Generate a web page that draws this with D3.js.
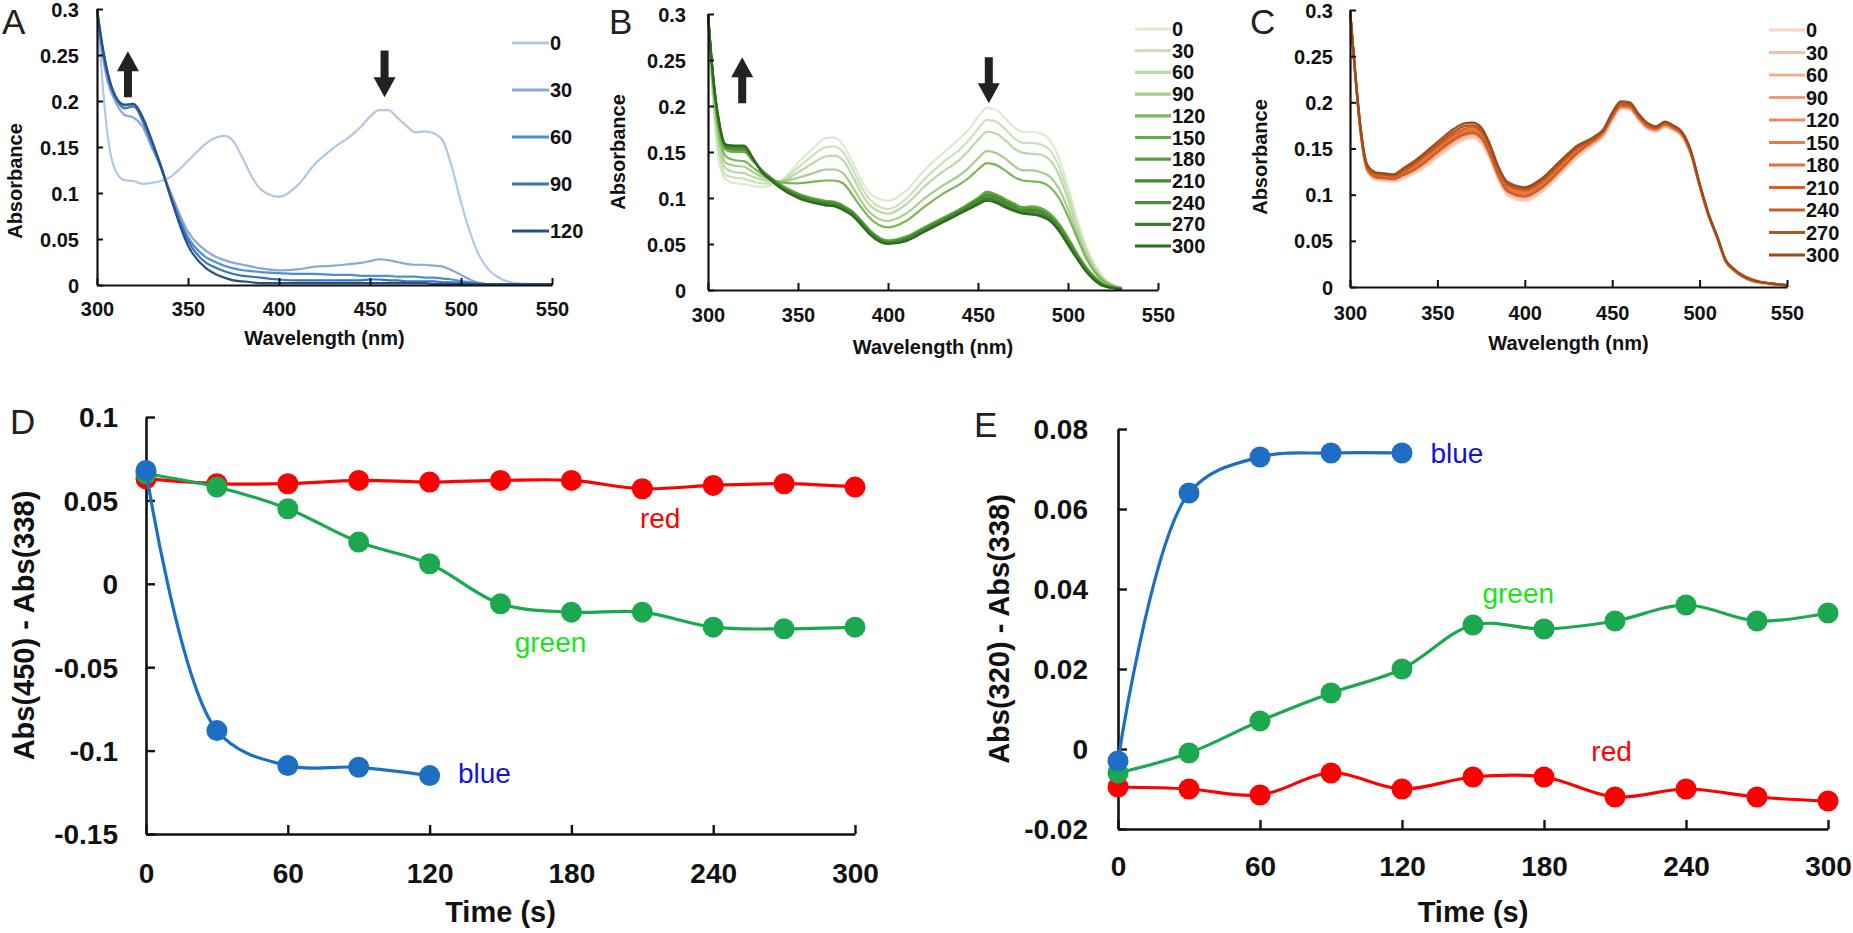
<!DOCTYPE html>
<html><head><meta charset="utf-8">
<script src="https://cdn.jsdelivr.net/npm/d3@7"></script>
<style>
body{margin:0;background:#fff}
svg{display:block}
text{font-family:"Liberation Sans",Arial,Helvetica,sans-serif}
</style>
</head><body>
<svg id="c" width="1853" height="933"></svg>
<script>
// ---------------- DATA ----------------
const wavelengths = [300,303,306,310,315,320,325,330,335,340,350,360,365,370,375,380,385,390,400,410,420,430,440,445,450,455,460,465,470,475,480,485,490,495,500,505,510,515,520,530,540,550];

// Panel A (blue light), times 0..120 s
const absA0   = [.300,.220,.160,.125,.114,.113,.110,.111,.113,.117,.135,.154,.160,.162,.156,.138,.118,.104,.096,.108,.132,.149,.163,.172,.183,.190,.190,.182,.173,.166,.167,.165,.157,.128,.090,.057,.032,.017,.009,.002,.001,.001];
const absA30  = [.300,.250,.220,.200,.185,.182,.172,.150,.128,.103,.058,.037,.031,.027,.024,.022,.020,.018,.016,.017,.020,.021,.023,.024,.026,.028,.027,.025,.023,.022,.022,.021,.020,.016,.011,.006,.002,.001,.001,.001,.001,.001];
const absA60  = [.300,.255,.225,.203,.195,.196,.178,.153,.128,.100,.052,.030,.025,.021,.018,.016,.015,.014,.013,.012,.012,.011,.011,.010,.010,.010,.010,.009,.009,.009,.008,.008,.007,.006,.004,.003,.002,.001,.001,.001,.001,.001];
const absA90  = [.300,.258,.228,.205,.192,.194,.180,.156,.130,.100,.048,.024,.019,.015,.012,.010,.009,.008,.006,.005,.005,.005,.005,.005,.006,.006,.005,.005,.004,.004,.004,.004,.003,.003,.002,.002,.001,.001,.001,.001,.001,.001];
const absA120 = [.300,.260,.230,.206,.196,.197,.183,.158,.130,.098,.043,.018,.012,.008,.005,.004,.003,.002,.002,.002,.002,.002,.002,.002,.002,.002,.002,.002,.002,.002,.002,.001,.001,.001,.001,.001,.001,.001,.001,.001,.001,.001];

// Panel B (green light), times 0..300 s
const absB0   = [.300,.200,.140,.120,.116,.115,.113,.112,.114,.118,.138,.157,.165,.166,.158,.140,.120,.105,.097,.108,.130,.148,.165,.175,.188,.198,.196,.187,.177,.172,.172,.170,.163,.143,.112,.078,.048,.027,.013,.002,null,null];
const absB30  = [.300,.205,.150,.125,.122,.121,.118,.116,.116,.118,.133,.149,.155,.156,.150,.133,.113,.098,.088,.099,.120,.138,.153,.163,.175,.185,.183,.175,.165,.160,.160,.158,.152,.134,.105,.073,.045,.025,.012,.002,null,null];
const absB60  = [.300,.210,.158,.132,.128,.127,.123,.120,.118,.118,.128,.140,.145,.146,.141,.125,.106,.092,.083,.093,.112,.128,.142,.152,.163,.172,.170,.163,.154,.149,.148,.147,.141,.125,.098,.068,.042,.023,.011,.002,null,null];
const absB90  = [.300,.215,.165,.138,.135,.134,.128,.123,.120,.118,.122,.128,.131,.131,.127,.113,.097,.084,.075,.083,.099,.113,.125,.133,.143,.151,.149,.143,.135,.130,.130,.128,.123,.110,.088,.062,.038,.021,.010,.002,null,null];
const absB120 = [.300,.220,.172,.145,.141,.140,.133,.126,.121,.117,.116,.118,.119,.119,.116,.104,.090,.078,.068,.075,.090,.104,.115,.122,.131,.138,.136,.130,.123,.119,.118,.117,.112,.100,.080,.057,.035,.019,.009,.002,null,null];
const absB150 = [.300,.225,.180,.152,.150,.150,.140,.130,.122,.115,.105,.099,.097,.096,.092,.086,.076,.065,.054,.058,.068,.078,.088,.094,.100,.107,.104,.099,.094,.090,.091,.089,.083,.072,.057,.040,.025,.014,.006,.001,null,null];
const absB180 = [.300,.226,.181,.154,.152,.152,.141,.130,.122,.114,.104,.098,.096,.095,.091,.085,.075,.064,.053,.057,.067,.077,.087,.093,.099,.105,.103,.098,.093,.089,.089,.087,.081,.070,.055,.039,.024,.013,.006,.001,null,null];
const absB210 = [.300,.227,.182,.155,.154,.154,.142,.129,.121,.113,.103,.097,.095,.094,.090,.084,.074,.063,.052,.056,.066,.076,.086,.092,.098,.103,.101,.096,.091,.087,.087,.085,.079,.068,.053,.037,.023,.012,.005,.001,null,null];
const absB240 = [.300,.228,.183,.156,.155,.155,.142,.129,.120,.112,.102,.096,.094,.093,.089,.083,.073,.062,.051,.055,.065,.075,.085,.090,.096,.101,.099,.094,.089,.085,.085,.083,.077,.066,.051,.036,.022,.011,.005,.001,null,null];
const absB270 = [.300,.229,.184,.157,.156,.156,.143,.128,.120,.112,.101,.095,.093,.092,.088,.082,.072,.061,.051,.054,.064,.074,.084,.089,.094,.099,.097,.092,.087,.084,.083,.081,.076,.065,.050,.035,.021,.011,.005,.001,null,null];
const absB300 = [.300,.230,.185,.158,.157,.157,.143,.128,.119,.111,.100,.094,.092,.091,.087,.081,.071,.060,.050,.053,.063,.073,.083,.088,.093,.097,.095,.090,.086,.083,.082,.080,.075,.064,.049,.034,.020,.010,.004,.001,null,null];

// Panel C (red light), times 0..300 s
const absC0   = [.300,.228,.166,.124,.116,.115,.114,.117,.121,.126,.140,.154,.159,.161,.156,.138,.115,.099,.093,.103,.121,.140,.155,.163,.180,.193,.192,.181,.171,.168,.173,.170,.163,.143,.108,.077,.053,.027,.017,.006,.003,.002];
const absC30  = [.300,.229,.167,.125,.117,.116,.115,.118,.123,.128,.142,.156,.161,.163,.158,.140,.117,.101,.095,.105,.123,.142,.156,.164,.181,.194,.193,.182,.172,.169,.174,.170,.163,.143,.109,.077,.053,.027,.017,.006,.003,.002];
const absC60  = [.300,.229,.168,.126,.118,.117,.116,.120,.125,.130,.144,.158,.163,.165,.160,.142,.119,.103,.097,.107,.125,.144,.157,.165,.182,.194,.193,.182,.172,.169,.174,.171,.164,.144,.109,.078,.053,.027,.017,.007,.003,.002];
const absC90  = [.300,.230,.169,.127,.118,.117,.117,.121,.126,.131,.146,.160,.165,.166,.161,.143,.120,.104,.098,.108,.126,.145,.158,.166,.183,.195,.194,.183,.173,.170,.175,.171,.164,.144,.110,.078,.054,.028,.018,.007,.004,.002];
const absC120 = [.300,.230,.170,.128,.119,.119,.118,.122,.127,.133,.147,.161,.166,.168,.163,.145,.122,.106,.100,.110,.128,.146,.159,.167,.184,.196,.195,.184,.174,.171,.176,.172,.165,.145,.110,.078,.054,.028,.018,.007,.004,.002];
const absC150 = [.300,.231,.171,.129,.121,.120,.119,.123,.129,.135,.150,.164,.169,.171,.166,.148,.124,.108,.102,.112,.130,.148,.160,.168,.185,.197,.196,.185,.175,.172,.177,.173,.166,.146,.111,.079,.054,.028,.018,.007,.004,.002];
const absC180 = [.300,.230,.170,.128,.120,.119,.118,.122,.127,.133,.148,.162,.167,.169,.164,.146,.122,.106,.100,.110,.128,.146,.159,.167,.184,.196,.195,.184,.174,.171,.176,.172,.165,.145,.110,.078,.054,.028,.018,.007,.004,.002];
const absC210 = [.300,.231,.172,.130,.122,.121,.120,.124,.130,.137,.152,.166,.171,.173,.168,.150,.126,.110,.104,.114,.132,.150,.161,.169,.186,.198,.197,.186,.176,.172,.177,.174,.166,.146,.111,.079,.055,.028,.018,.007,.004,.002];
const absC240 = [.300,.229,.169,.127,.119,.118,.117,.121,.125,.131,.146,.160,.165,.167,.162,.144,.120,.104,.098,.108,.126,.145,.160,.168,.185,.197,.196,.185,.175,.172,.177,.173,.166,.146,.111,.079,.054,.028,.018,.007,.004,.002];
const absC270 = [.300,.232,.173,.131,.123,.122,.121,.126,.132,.139,.154,.169,.174,.175,.170,.152,.128,.112,.106,.116,.134,.151,.162,.170,.187,.199,.198,.187,.177,.173,.178,.174,.167,.147,.112,.080,.055,.029,.019,.008,.004,.002];
const absC300 = [.300,.233,.174,.132,.124,.123,.122,.128,.134,.141,.157,.172,.177,.178,.173,.155,.130,.114,.108,.118,.136,.153,.163,.171,.189,.201,.200,.188,.178,.174,.179,.175,.168,.148,.112,.080,.055,.029,.019,.008,.004,.002];

const legendA = ["0","30","60","90","120"];
const legendBC = ["0","30","60","90","120","150","180","210","240","270","300"];
const colorsA = ["#b0c8e4","#88aad4","#4a90d8","#3b74b8","#284f86"];
const colorsB = ["#dbebcf","#cbe2b9","#bbd9a5","#a8cd8e","#78b656","#66ab43","#58a03a","#3f8c27","#4c8b38","#3d7d2c","#2f691f"];
const colorsC = ["#f8d2c2","#f5c0a8","#f2ae92","#ef9c79","#ec8a60","#ea7a45","#e77035","#db611a","#c95f28","#b35620","#9a4b1f"];

const specXTicks = [300,350,400,450,500,550];
const specYTicks = [0,0.05,0.1,0.15,0.2,0.25,0.3];
const specYLabels = ["0","0.05","0.1","0.15","0.2","0.25","0.3"];

// Panels D / E
const times = [0,30,60,90,120,150,180,210,240,270,300];
const timesBlue = [0,30,60,90,120];
const dRed   = [0.063,0.060,0.060,0.062,0.061,0.062,0.062,0.057,0.059,0.060,0.058];
const dGreen = [0.066,0.058,0.045,0.025,0.012,-0.012,-0.017,-0.017,-0.026,-0.027,-0.026];
const dBlue  = [0.068,-0.088,-0.109,-0.110,-0.115];
const eRed   = [-0.0095,-0.010,-0.0115,-0.006,-0.010,-0.007,-0.007,-0.012,-0.010,-0.012,-0.013];
const eGreen = [-0.006,-0.001,0.007,0.014,0.020,0.031,0.030,0.032,0.036,0.032,0.034];
const eBlue  = [-0.003,0.064,0.073,0.074,0.074];

const timeTicks = [0,60,120,180,240,300];
const dYTicks = [-0.15,-0.1,-0.05,0,0.05,0.1];
const dYLabels = ["-0.15","-0.1","-0.05","0","0.05","0.1"];
const eYTicks = [-0.02,0,0.02,0.04,0.06,0.08];
const eYLabels = ["-0.02","0","0.02","0.04","0.06","0.08"];

const seriesNames = ["red","green","blue"];
const lineColors = ["#ff0000","#1ba84e","#1e6fc3"];
const textColors = ["#ff0000","#19e619","#1414d8"];
// annotation anchors (data units: time, value)
const annotD_t = [209,156,132];
const annotD_v = [0.039,-0.035,-0.114];
const annotE_t = [200,154,132];
const annotE_v = [-0.0005,0.039,0.074];

// ---------------- DRAWING ----------------
const svg = d3.select("#c");

function spectrumPanel(p){
  const g = svg.append("g");
  const x = d3.scaleLinear().domain([300,550]).range([p.x0,p.x1]);
  const y = d3.scaleLinear().domain([0,0.3]).range([p.y0,p.y1]);
  const line = d3.line().defined(d=>d[1]!=null && d[1]!==undefined)
     .x(d=>x(d[0])).y(d=>y(d[1])).curve(d3.curveMonotoneX);
  p.series.forEach((s,i)=>{
    g.append("path").attr("d", line(wavelengths.map((w,j)=>[w,s[j]])))
      .attr("fill","none").attr("stroke",p.colors[i]).attr("stroke-width",2.2)
      .attr("stroke-linejoin","round");
  });
  const xa = g.append("g").attr("transform",`translate(0,${p.y0})`)
    .call(d3.axisBottom(x).tickValues(specXTicks).tickSizeInner(-7).tickSizeOuter(0).tickFormat(d3.format("d")));
  xa.selectAll("text").attr("y",p.xlab).attr("dy","0.35em").attr("font-size",20).attr("font-weight","bold").attr("fill","#111");
  const ya = g.append("g").attr("transform",`translate(${p.x0},0)`)
    .call(d3.axisLeft(y).tickValues(specYTicks).tickSizeInner(-6).tickSizeOuter(0).tickFormat((d,i)=>specYLabels[i]));
  ya.selectAll("text").attr("x",-p.ylab).attr("dy","0.35em").attr("font-size",20).attr("font-weight","bold").attr("fill","#111");
  [xa,ya].forEach(a=>{a.select(".domain").attr("stroke","#111").attr("stroke-width",2.2);
    a.selectAll(".tick line").attr("stroke","#111").attr("stroke-width",2);});
  g.append("text").attr("x",(p.x0+p.x1)/2).attr("y",p.xtitle).attr("text-anchor","middle")
    .attr("dominant-baseline","central").attr("font-size",20).attr("font-weight","bold").attr("fill","#111")
    .text("Wavelength (nm)");
  g.append("text").attr("transform",`translate(${p.ytx},${p.yty}) rotate(-90)`).attr("text-anchor","middle")
    .attr("dominant-baseline","central").attr("font-size",20).attr("font-weight","bold").attr("fill","#111")
    .text("Absorbance");
  g.append("text").attr("x",p.lx).attr("y",p.ly).attr("font-size",35).attr("fill","#222").text(p.letter);
  p.labels.forEach((lab,i)=>{
    const yy = p.legY0 + i*p.legDy;
    g.append("line").attr("x1",p.legX0).attr("x2",p.legX1).attr("y1",yy).attr("y2",yy)
      .attr("stroke",p.colors[i]).attr("stroke-width",3.2);
    g.append("text").attr("x",p.legX1+1).attr("y",yy).attr("dominant-baseline","central")
      .attr("font-size",20).attr("font-weight","bold").attr("fill","#111").text(lab);
  });
  (p.arrows||[]).forEach(a=>{
    const ax = x(a.wl), yStart = y(a.from), yTip = y(a.to);
    const dir = yTip < yStart ? -1 : 1;
    const head = 20, hw = 11, sw = 4;
    const yBase = yTip - dir*head;
    const pts = [[ax-sw,yStart],[ax+sw,yStart],[ax+sw,yBase],[ax+hw,yBase],[ax,yTip],[ax-hw,yBase],[ax-sw,yBase]];
    g.append("path").attr("d","M"+pts.map(q=>q.join(",")).join("L")+"Z").attr("fill","#222");
  });
}

spectrumPanel({x0:97,x1:552,y0:285,y1:9,xlab:24,ylab:18,xtitle:338,ytx:15,yty:181,lx:2,ly:34,letter:"A",
  series:[absA0,absA30,absA60,absA90,absA120],colors:colorsA,labels:legendA,
  legX0:512,legX1:549,legY0:43,legDy:47,
  arrows:[{wl:317,from:0.204,to:0.254},{wl:458,from:0.255,to:0.204}]});
spectrumPanel({x0:708,x1:1158,y0:290,y1:14,xlab:25,ylab:22,xtitle:347,ytx:618,yty:152,lx:609,ly:34,letter:"B",
  series:[absB0,absB30,absB60,absB90,absB120,absB150,absB180,absB210,absB240,absB270,absB300],colors:colorsB,labels:legendBC,
  legX0:1135,legX1:1171,legY0:29,legDy:21.7,
  arrows:[{wl:319,from:0.203,to:0.253},{wl:456,from:0.253,to:0.203}]});
spectrumPanel({x0:1350,x1:1787,y0:287,y1:10,xlab:26,ylab:17,xtitle:343,ytx:1260,yty:157,lx:1250,ly:34,letter:"C",
  series:[absC0,absC30,absC60,absC90,absC120,absC150,absC180,absC210,absC240,absC270,absC300],colors:colorsC,labels:legendBC,
  legX0:1769,legX1:1805,legY0:30,legDy:22.5});

function timePanel(p){
  const g = svg.append("g");
  const x = d3.scaleLinear().domain([0,300]).range([p.x0,p.x1]);
  const y = d3.scaleLinear().domain(p.ydom).range([p.y0,p.y1]);
  const xa = g.append("g").attr("transform",`translate(0,${p.y0})`)
    .call(d3.axisBottom(x).tickValues(timeTicks).tickSizeInner(-9).tickSizeOuter(0).tickFormat(d3.format("d")));
  xa.selectAll("text").attr("y",p.xlab).attr("dy","0.35em").attr("font-size",28).attr("font-weight","bold").attr("fill","#111");
  const ya = g.append("g").attr("transform",`translate(${p.x0},0)`)
    .call(d3.axisLeft(y).tickValues(p.yticks).tickSizeInner(-9).tickSizeOuter(0).tickFormat((d,i)=>p.ylabels[i]));
  ya.selectAll("text").attr("x",-p.ylab).attr("dy","0.35em").attr("font-size",28).attr("font-weight","bold").attr("fill","#111");
  [xa,ya].forEach(a=>{a.select(".domain").attr("stroke","#111").attr("stroke-width",2.6);
    a.selectAll(".tick line").attr("stroke","#111").attr("stroke-width",2.4);});
  const line = d3.line().x(d=>x(d[0])).y(d=>y(d[1])).curve(d3.curveCatmullRom.alpha(0.5));
  p.data.forEach((s,i)=>{
    const pts = s.t.map((t,j)=>[t,s.v[j]]);
    g.append("path").attr("d",line(pts)).attr("fill","none").attr("stroke",lineColors[i]).attr("stroke-width",3.2);
    g.selectAll(null).data(pts).enter().append("circle").attr("cx",d=>x(d[0])).attr("cy",d=>y(d[1]))
      .attr("r",10.5).attr("fill",lineColors[i]);
  });
  p.annT.forEach((t,i)=>{
    g.append("text").attr("x",x(t)).attr("y",y(p.annV[i])).attr("dominant-baseline","central")
      .attr("font-size",28).attr("fill",textColors[i]).text(seriesNames[i]);
  });
  g.append("text").attr("x",(p.x0+p.x1)/2).attr("y",p.xtitle).attr("text-anchor","middle")
    .attr("dominant-baseline","central").attr("font-size",29).attr("font-weight","bold").attr("fill","#111").text("Time (s)");
  g.append("text").attr("transform",`translate(${p.ytx},${(p.y0+p.y1)/2}) rotate(-90)`).attr("text-anchor","middle")
    .attr("dominant-baseline","central").attr("font-size",29).attr("font-weight","bold").attr("fill","#111").text(p.ytitle);
  g.append("text").attr("x",p.lx).attr("y",p.ly).attr("font-size",35).attr("fill","#222").text(p.letter);
}

timePanel({x0:146,x1:855,y0:834,y1:417,ydom:[-0.15,0.1],yticks:dYTicks,ylabels:dYLabels,xlab:39,ylab:28,
  xtitle:912,ytx:24,ytitle:"Abs(450) - Abs(338)",lx:10,ly:434,letter:"D",
  data:[{t:times,v:dRed},{t:times,v:dGreen},{t:timesBlue,v:dBlue}],annT:annotD_t,annV:annotD_v});
timePanel({x0:1118,x1:1828,y0:829,y1:429,ydom:[-0.02,0.08],yticks:eYTicks,ylabels:eYLabels,xlab:37,ylab:30,
  xtitle:912,ytx:999,ytitle:"Abs(320) - Abs(338)",lx:974,ly:437,letter:"E",
  data:[{t:times,v:eRed},{t:times,v:eGreen},{t:timesBlue,v:eBlue}],annT:annotE_t,annV:annotE_v});
</script>
</body></html>
